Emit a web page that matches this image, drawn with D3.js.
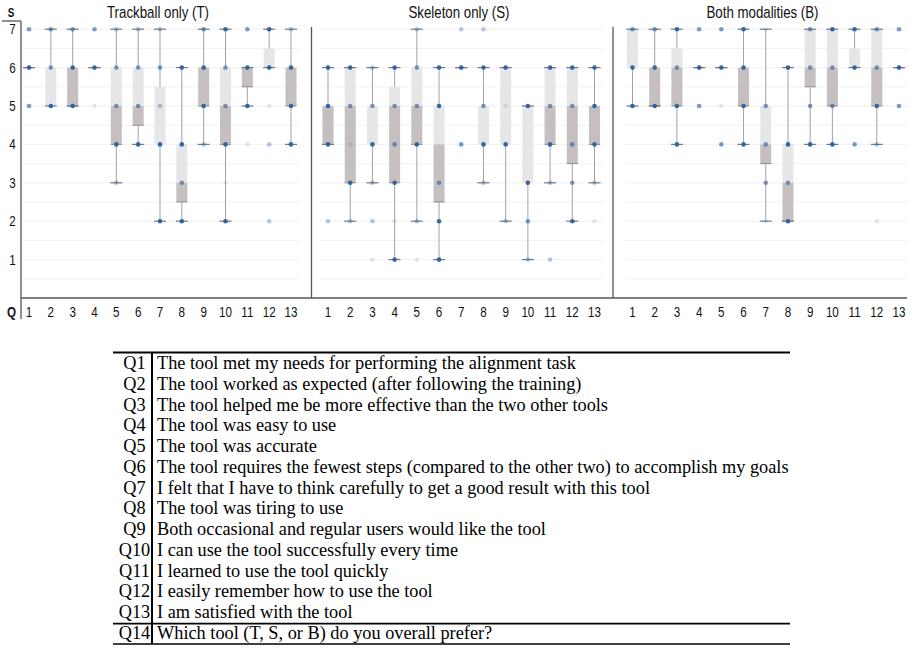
<!DOCTYPE html>
<html>
<head>
<meta charset="utf-8">
<script src="https://cdn.jsdelivr.net/npm/d3@7"></script>
<style>
  body { margin: 0; background: #fff; }
  svg { display: block; }
</style>
</head>
<body>
<svg id="chart" width="915" height="649"></svg>
<script>
// questions on the x axis
const questions = [1, 2, 3, 4, 5, 6, 7, 8, 9, 10, 11, 12, 13];
const scoreTicks = [1, 2, 3, 4, 5, 6, 7];
const panelTitles = ["Trackball only (T)", "Skeleton only (S)", "Both modalities (B)"];

// box stats per question: [low whisker, q1, median, q3, high whisker]
const trackballBoxes = [
  [6, 6, 6, 6, 6], [5, 5, 5, 6, 7], [5, 5, 6, 6, 7], [6, 6, 6, 6, 6],
  [3, 4, 5, 6, 7], [4, 4.5, 5, 6, 7], [2, 4, 4, 5.5, 7], [2, 2.5, 3, 4, 6],
  [4, 5, 6, 6, 7], [2, 4, 5, 6, 7], [5, 5.5, 6, 6, 6], [6, 6, 6, 6.5, 7],
  [4, 5, 6, 6, 7]
];
const skeletonBoxes = [
  [4, 4, 5, 5, 6], [2, 3, 5, 6, 6], [3, 4, 4, 5, 6], [1, 3, 5, 5.5, 6],
  [2, 4, 5, 6, 7], [1, 2.5, 4, 5, 6], [6, 6, 6, 6, 6], [3, 4, 4, 5, 6],
  [2, 4, 4, 6, 6], [1, 3, 3, 5, 5], [3, 4, 5, 6, 6], [2, 3.5, 5, 6, 6],
  [3, 4, 5, 5, 6]
];
const bothBoxes = [
  [5, 6, 6, 7, 7], [5, 5, 6, 6, 7], [4, 5, 6, 6.5, 7], [6, 6, 6, 6, 6],
  [6, 6, 6, 6, 6], [4, 5, 6, 6, 7], [2, 3.5, 4, 5, 7], [2, 2, 3, 4, 6],
  [4, 5.5, 6, 7, 7], [4, 5, 6, 7, 7], [6, 6, 6, 6.5, 7], [4, 5, 6, 7, 7],
  [6, 6, 6, 6, 6]
];

// answers drawn as dots: [score, weight 1..4] (weight = how dark the dot is)
const trackballDots = [
  [[7, 3], [6, 4], [5, 3]],
  [[7, 3], [6, 3], [5, 4]],
  [[7, 3], [6, 4], [5, 4]],
  [[7, 3], [6, 4], [5, 1]],
  [[7, 2], [6, 3], [5, 3], [4, 4], [3, 2]],
  [[7, 2], [6, 3], [5, 3], [4, 4]],
  [[7, 2], [6, 3], [5, 2], [4, 4], [2, 4]],
  [[6, 4], [4, 4], [3, 3], [2, 4]],
  [[7, 3], [6, 4], [5, 4], [4, 2]],
  [[7, 4], [6, 3], [5, 3], [4, 4], [3, 1], [2, 4]],
  [[7, 3], [6, 4], [5, 4], [4, 1]],
  [[7, 4], [6, 4], [5, 1], [4, 2], [2, 2]],
  [[7, 2], [6, 4], [5, 4], [4, 4]]
];
const skeletonDots = [
  [[6, 4], [5, 4], [4, 4], [2, 2]],
  [[6, 4], [5, 3], [4, 1], [3, 4], [2, 2]],
  [[6, 2], [5, 3], [4, 4], [3, 2], [2, 2], [1, 1]],
  [[6, 4], [5, 3], [4, 3], [3, 4], [2, 1], [1, 4]],
  [[7, 2], [6, 3], [5, 3], [4, 4], [2, 2], [1, 1]],
  [[6, 4], [5, 4], [3, 3], [2, 4], [1, 4]],
  [[7, 2], [6, 4], [4, 3]],
  [[7, 2], [6, 4], [5, 3], [4, 4], [3, 2]],
  [[6, 4], [5, 1], [4, 4], [2, 2]],
  [[5, 4], [3, 4], [2, 3], [1, 2]],
  [[6, 4], [5, 3], [4, 4], [3, 2], [1, 2]],
  [[6, 4], [5, 3], [4, 3], [3, 3], [2, 4]],
  [[6, 4], [5, 4], [4, 4], [3, 2], [2, 1]]
];
const bothDots = [
  [[7, 3], [6, 4], [5, 4]],
  [[7, 3], [6, 4], [5, 4]],
  [[7, 4], [6, 3], [5, 4], [4, 4]],
  [[7, 3], [6, 4], [5, 3]],
  [[7, 3], [6, 4], [5, 1], [4, 3]],
  [[7, 4], [6, 4], [5, 4], [4, 4]],
  [[7, 1], [5, 3], [4, 3], [3, 3], [2, 1]],
  [[6, 4], [4, 4], [3, 3], [2, 4]],
  [[7, 3], [6, 3], [5, 3], [4, 4]],
  [[7, 4], [6, 3], [5, 3], [4, 4]],
  [[7, 4], [6, 4], [4, 3]],
  [[7, 3], [6, 3], [5, 4], [4, 2], [2, 1]],
  [[7, 3], [6, 4], [5, 3]]
];

// questionnaire table
const tableCodes = ["Q1", "Q2", "Q3", "Q4", "Q5", "Q6", "Q7", "Q8", "Q9", "Q10", "Q11", "Q12", "Q13", "Q14"];
const tableTexts = [
  "The tool met my needs for performing the alignment task",
  "The tool worked as expected (after following the training)",
  "The tool helped me be more effective than the two other tools",
  "The tool was easy to use",
  "The tool was accurate",
  "The tool requires the fewest steps (compared to the other two) to accomplish my goals",
  "I felt that I have to think carefully to get a good result with this tool",
  "The tool was tiring to use",
  "Both occasional and regular users would like the tool",
  "I can use the tool successfully every time",
  "I learned to use the tool quickly",
  "I easily remember how to use the tool",
  "I am satisfied with the tool",
  "Which tool (T, S, or B) do you overall prefer?"
];

const svg = d3.select("#chart");
const sansFont = "'Liberation Sans', Arial, sans-serif";
const narrow = 0.83; // squeeze the sans labels to look like a narrow face

// narrow sans text helper
function sansText(sel, size, bold) {
  return sel
    .attr("text-anchor", "middle")
    .style("font-family", sansFont).style("font-size", size + "px")
    .style("font-weight", bold ? "bold" : "normal")
    .attr("fill", "#111");
}

const axisX = 21, axisBottom = 298, axisTop = 21;
const y = d3.scaleLinear().domain([0, 7]).range([axisBottom, 29.2]);

const panels = [
  { title: panelTitles[0], boxes: trackballBoxes, dots: trackballDots, range: [29, 291], titleX: 158 },
  { title: panelTitles[1], boxes: skeletonBoxes, dots: skeletonDots, range: [328, 594.5], titleX: 459 },
  { title: panelTitles[2], boxes: bothBoxes, dots: bothDots, range: [632.5, 899], titleX: 762.5 }
];

const boxW = 11;
const dotOpacity = d3.scaleOrdinal().domain([1, 2, 3, 4]).range([0.14, 0.35, 0.62, 0.95]);

panels.forEach(p => {
  const x = d3.scalePoint().domain(questions).range(p.range);
  const g = svg.append("g");

  // faint grid every half point
  g.selectAll("line.grid")
    .data(d3.range(0.5, 7.01, 0.5))
    .enter().append("line")
    .attr("x1", p.range[0] - 8).attr("x2", p.range[1] + 9)
    .attr("y1", d => y(d)).attr("y2", d => y(d))
    .attr("stroke", "#f1f1f1").attr("stroke-width", 1);

  const q = g.selectAll("g.q")
    .data(p.boxes.map((b, i) => ({ q: questions[i], b: b, dots: p.dots[i] })))
    .enter().append("g")
    .attr("transform", d => "translate(" + x(d.q) + ",0)");

  // whisker
  q.append("line")
    .attr("x1", 0).attr("x2", 0)
    .attr("y1", d => y(d.b[0])).attr("y2", d => y(d.b[4]))
    .attr("stroke", "#a3a3a3").attr("stroke-width", 1);

  // upper half of the box (median to q3)
  q.append("rect")
    .attr("x", -boxW / 2).attr("width", boxW)
    .attr("y", d => y(d.b[3]))
    .attr("height", d => y(d.b[2]) - y(d.b[3]))
    .attr("fill", "#e6e6e6");

  // lower half of the box (q1 to median)
  q.append("rect")
    .attr("x", -boxW / 2).attr("width", boxW)
    .attr("y", d => y(d.b[2]))
    .attr("height", d => y(d.b[1]) - y(d.b[2]))
    .attr("fill", "#c6bfbf");

  // box bottom edge
  q.filter(d => d.b[1] < d.b[2]).append("line")
    .attr("x1", -boxW / 2).attr("x2", boxW / 2)
    .attr("y1", d => y(d.b[1])).attr("y2", d => y(d.b[1]))
    .attr("stroke", "#8f8a8a").attr("stroke-width", 1);

  // caps
  [0, 4].forEach(k => {
    q.append("line")
      .attr("x1", -boxW / 2 - 0.5).attr("x2", boxW / 2 + 0.5)
      .attr("y1", d => y(d.b[k])).attr("y2", d => y(d.b[k]))
      .attr("stroke", "#6f7c8a").attr("stroke-width", 1.2);
  });

  // answer dots
  q.selectAll("circle")
    .data(d => d.dots)
    .enter().append("circle")
    .attr("cx", 0).attr("cy", d => y(d[0]))
    .attr("r", 2.3)
    .attr("fill", "#2b609f")
    .attr("fill-opacity", d => dotOpacity(d[1]));

  // question tick labels
  sansText(g.selectAll("text.qlab")
    .data(questions)
    .enter().append("text")
    .attr("transform", d => "translate(" + x(d) + ",317) scale(" + narrow + ",1)"), 14)
    .text(d => d);

  // title
  sansText(svg.append("text")
    .attr("transform", "translate(" + p.titleX + ",18) scale(" + narrow + ",1)"), 16)
    .text(p.title);
});

// panel separators
[311.5, 613].forEach(sx => {
  svg.append("line")
    .attr("x1", sx).attr("x2", sx).attr("y1", 27).attr("y2", axisBottom)
    .attr("stroke", "#555").attr("stroke-width", 1.3);
});

// axes frame
svg.append("line").attr("x1", axisX).attr("x2", axisX).attr("y1", axisTop).attr("y2", 319)
  .attr("stroke", "#555").attr("stroke-width", 1.3);
svg.append("line").attr("x1", 2).attr("x2", axisX).attr("y1", axisTop).attr("y2", axisTop)
  .attr("stroke", "#555").attr("stroke-width", 1.3);
svg.append("line").attr("x1", axisX).attr("x2", 907).attr("y1", axisBottom).attr("y2", axisBottom)
  .attr("stroke", "#555").attr("stroke-width", 1.3);

// y tick labels
sansText(svg.selectAll("text.ylab")
  .data(scoreTicks)
  .enter().append("text")
  .attr("transform", d => "translate(12.5," + (y(d) + 5) + ") scale(" + narrow + ",1)"), 14)
  .text(d => d);

sansText(svg.append("text").attr("transform", "translate(11,17) scale(" + narrow + ",1)"), 12, true)
  .text("S");
sansText(svg.append("text").attr("transform", "translate(11.5,317) scale(" + narrow + ",1)"), 14, true)
  .text("Q");

// table of questions
const tbl = svg.append("g");
const rowY = d3.scalePoint().domain(tableCodes).range([363, 633]);
const serif = "'Liberation Serif', 'Times New Roman', serif";

tbl.selectAll("text.code")
  .data(tableCodes)
  .enter().append("text")
  .attr("x", 134.5).attr("y", d => rowY(d) + 6)
  .attr("text-anchor", "middle")
  .style("font-family", serif).style("font-size", "18.3px")
  .text(d => d);

tbl.selectAll("text.desc")
  .data(tableTexts)
  .enter().append("text")
  .attr("x", 157).attr("y", (d, i) => rowY(tableCodes[i]) + 6)
  .style("font-family", serif).style("font-size", "18.3px")
  .text(d => d);

const topRule = rowY("Q1") - 10.5;
const midRule = (rowY("Q13") + rowY("Q14")) / 2 + 1;
const botRule = rowY("Q14") + 11;
tbl.append("line").attr("x1", 113).attr("x2", 790).attr("y1", topRule).attr("y2", topRule)
  .attr("stroke", "#000").attr("stroke-width", 2);
tbl.append("line").attr("x1", 113).attr("x2", 790).attr("y1", midRule).attr("y2", midRule)
  .attr("stroke", "#000").attr("stroke-width", 1.6);
tbl.append("line").attr("x1", 113).attr("x2", 790).attr("y1", botRule).attr("y2", botRule)
  .attr("stroke", "#000").attr("stroke-width", 1.6);
tbl.append("line").attr("x1", 152).attr("x2", 152).attr("y1", topRule).attr("y2", botRule)
  .attr("stroke", "#000").attr("stroke-width", 2);
</script>
</body>
</html>
